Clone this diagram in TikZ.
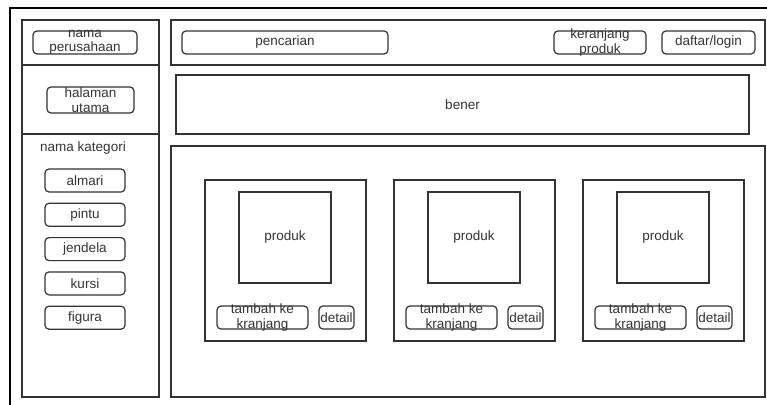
\documentclass[tikz,border=0pt]{standalone}
\usepackage{fontspec}
\setmainfont{Liberation Sans}
\begin{document}
\begin{tikzpicture}[x=1pt,y=-1pt,
  every node/.style={inner sep=0pt,outer sep=0pt,text=black!80,
    font=\fontsize{13.5}{14.5}\selectfont,align=center},
  panel/.style={draw=black!80,line width=1.3pt},
  btn/.style={draw=black!80,line width=1.2pt,rounded corners=4pt},
  frameline/.style={draw=black,line width=1.5pt}]
\useasboundingbox (0,0) rectangle (767,404);
\clip (0,0) rectangle (767,404);

% page frame (runs past the visible area)
\coordinate (fTL) at (10,8);
\coordinate (fTR) at (780,8);
\coordinate (fBL) at (10,420);
\draw[frameline] (fBL) -- (fTL) -- (fTR);

% left column
\node[panel,minimum width=137,minimum height=45] (leftHead) at (90.5,42.5) {};
\node[panel,minimum width=137,minimum height=69] (leftNav) at (90.5,99.5) {};
\node[panel,minimum width=137,minimum height=263] (leftCat) at (90.5,265.5) {};

\node[btn,minimum width=104,minimum height=23] (company) at (85,42.5) {};
\node (companyTxt) at (company.center) {nama\\perusahaan};
\node[btn,minimum width=87,minimum height=26] (home) at (90.5,100) {};
\node (homeTxt) at (home.center) {halaman\\utama};

\node (catTitle) at (83,148) {nama kategori};
\foreach \name/\label [count=\i from 0] in {almari/almari,pintu/pintu,jendela/jendela,kursi/kursi,figura/figura}
  \node[btn,minimum width=80,minimum height=23] (\name) at (85,{180.5+34.3*\i}) {\label};

% top bar
\node[panel,minimum width=594,minimum height=45] (topbar) at (468,42.5) {};
\node[btn,minimum width=206,minimum height=23] (search) at (285,42.5) {pencarian};
\node[btn,minimum width=92,minimum height=23] (cart) at (600,42.5) {};
\node (cartTxt) at (cart.center) {keranjang\\produk};
\node[btn,minimum width=93,minimum height=23] (login) at (708.5,42.5) {daftar/login};

% banner
\node[panel,minimum width=573,minimum height=59] (banner) at (462.5,104.5) {bener};

% content area with product cards
\node[panel,minimum width=594,minimum height=251] (content) at (468,271.5) {};
\foreach \x [count=\k] in {205,394,583} {
  \node[panel,minimum width=161,minimum height=161] (card\k) at ({\x+80.5},260.5) {};
  \node[panel,minimum width=92,minimum height=91] (img\k) at ({\x+80},237.5) {produk};
  \node[btn,minimum width=91,minimum height=23] (add\k) at ({\x+57.5},317.5) {};
  \node (addTxt\k) at (add\k.center) {tambah ke\\kranjang};
  \node[btn,minimum width=35,minimum height=23] (detail\k) at ({\x+131.5},317.5) {detail};
}
\end{tikzpicture}
\end{document}
